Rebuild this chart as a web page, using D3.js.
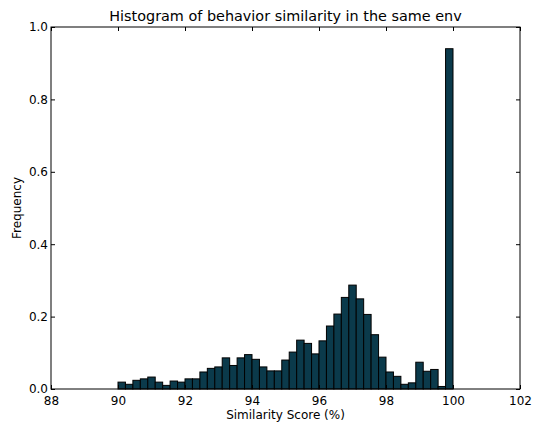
<!DOCTYPE html>
<html>
<head>
<meta charset="utf-8">
<script src="https://cdn.jsdelivr.net/npm/d3@7"></script>
<style>
  body { margin: 0; background: #fff; }
  text { font-family: "DejaVu Sans", sans-serif; fill: #000; }
</style>
</head>
<body>
<svg id="chart" width="534" height="424"></svg>
<script>
// histogram: 45 bins between 90 and 100
const binStart = 90;
const binEnd = 100;
const freqs = [
  0.019, 0.013, 0.024, 0.028, 0.033, 0.019, 0.010, 0.022, 0.019, 0.028,
  0.028, 0.047, 0.057, 0.061, 0.086, 0.065, 0.086, 0.095, 0.082, 0.061,
  0.050, 0.050, 0.080, 0.102, 0.135, 0.126, 0.097, 0.133, 0.174, 0.207,
  0.253, 0.287, 0.249, 0.206, 0.150, 0.088, 0.047, 0.035, 0.013, 0.017,
  0.074, 0.049, 0.054, 0.007, 0.940
];
const xTicks = [88, 90, 92, 94, 96, 98, 100, 102];
const yTicks = [0.0, 0.2, 0.4, 0.6, 0.8, 1.0];

const margin = {left: 51, right: 14, top: 27, bottom: 35};
const W = 534, H = 424;
const svg = d3.select('#chart');

const x = d3.scaleLinear().domain([88, 102]).range([margin.left, W - margin.right]);
const y = d3.scaleLinear().domain([0, 1]).range([H - margin.bottom, margin.top]);

const binW = (binEnd - binStart) / freqs.length;
const bins = freqs.map((f, i) => ({x0: binStart + i * binW, x1: binStart + (i + 1) * binW, f}));

svg.append("g")
  .selectAll("rect")
  .data(bins)
  .join("rect")
  .attr("x", d => x(d.x0))
  .attr("width", d => x(d.x1) - x(d.x0))
  .attr("y", d => y(d.f))
  .attr("height", d => y(0) - y(d.f))
  .attr("fill", "#0b3a4b")
  .attr("stroke", "#000")
  .attr("stroke-width", 1);

const tickLen = 4;
const fmt = d3.format(".1f");

// bottom and top axes
svg.append("g")
  .attr("transform", `translate(0,${y(0)})`)
  .call(d3.axisBottom(x).tickValues(xTicks).tickSizeInner(-tickLen).tickSizeOuter(0).tickPadding(7).tickFormat(d3.format("d")))
  .call(g => g.select(".domain").remove())
  .call(g => g.selectAll("text").attr("font-size", 12));
svg.append("g")
  .attr("transform", `translate(0,${y(1)})`)
  .call(d3.axisTop(x).tickValues(xTicks).tickSizeInner(-tickLen).tickSizeOuter(0).tickFormat(""))
  .call(g => g.select(".domain").remove());

// left and right axes
svg.append("g")
  .attr("transform", `translate(${x(88)},0)`)
  .call(d3.axisLeft(y).tickValues(yTicks).tickSizeInner(-tickLen).tickSizeOuter(0).tickPadding(3).tickFormat(fmt))
  .call(g => g.select(".domain").remove())
  .call(g => g.selectAll("text").attr("font-size", 12));
svg.append("g")
  .attr("transform", `translate(${x(102)},0)`)
  .call(d3.axisRight(y).tickValues(yTicks).tickSizeInner(-tickLen).tickSizeOuter(0).tickFormat(""))
  .call(g => g.select(".domain").remove());

// frame
svg.append("rect")
  .attr("x", x(88)).attr("y", y(1))
  .attr("width", x(102) - x(88)).attr("height", y(0) - y(1))
  .attr("fill", "none").attr("stroke", "#000").attr("stroke-width", 1);

svg.append("text")
  .attr("x", (x(88) + x(102)) / 2).attr("y", 21)
  .attr("text-anchor", "middle").attr("font-size", 14.4)
  .text("Histogram of behavior similarity in the same env");

svg.append("text")
  .attr("x", (x(88) + x(102)) / 2).attr("y", 419)
  .attr("text-anchor", "middle").attr("font-size", 12)
  .text("Similarity Score (%)");

svg.append("text")
  .attr("transform", `translate(21,${(y(0) + y(1)) / 2}) rotate(-90)`)
  .attr("text-anchor", "middle").attr("font-size", 12)
  .text("Frequency");
</script>
</body>
</html>
